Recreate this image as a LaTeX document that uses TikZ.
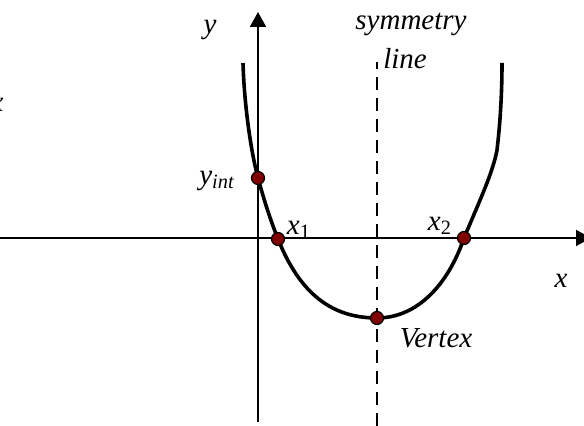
\documentclass[tikz,border=0pt]{standalone}
\usepackage{fontspec}
\setmainfont{Liberation Serif}
\usetikzlibrary{arrows.meta}
\definecolor{dotred}{RGB}{128,0,0}

\begin{document}
\begin{tikzpicture}[x=0.5pt, y=-0.5pt,
      axis/.style={line width=1pt, -{Triangle[length=7.5pt, width=8pt]}},
      curve/.style={line width=1.8pt},
      symline/.style={line width=1pt, dash pattern=on 6.5pt off 4pt},
      dot/.style={circle, draw=black, fill=dotred, line width=0.6pt,
                  inner sep=0pt, minimum size=6.5pt},
      lbl/.style={font=\fontsize{14.5}{16}\selectfont\itshape, inner sep=0pt}
    ]
    \useasboundingbox (0,0) rectangle (584,426);

    % axes and the symmetry line
    \coordinate (xl) at (0,238);
    \coordinate (xr) at (591,238);
    \coordinate (yb) at (258,422);
    \coordinate (yt) at (258,12);
    \coordinate (sb) at (377,426);
    \coordinate (st) at (377,62);
    \draw[axis] (xl) -- (xr);
    \draw[axis] (yb) -- (yt);
    \draw[symline] (sb) -- (st);

    % the parabola
    \coordinate (ltop) at (243,63);
    \coordinate (rtop) at (502,63);
    \coordinate (rmid) at (497,150);
    \coordinate (pyint) at (258,178);
    \coordinate (px1) at (278,239);
    \coordinate (px2) at (464,238);
    \coordinate (pvert) at (377,318);
    \draw[curve] (ltop) .. controls (244,100) and (250,148) .. (pyint)
      .. controls (264,200) and (270,219) .. (px1)
      .. controls (300,294) and (332,318) .. (pvert)
      .. controls (417,318) and (448,285) .. (px2)
      .. controls (480,200) and (493,172) .. (rmid)
      .. controls (500,125) and (502,95) .. (rtop);

    \node[dot] (yint) at (pyint) {};
    \node[dot] (x1) at (px1) {};
    \node[dot] (x2) at (px2) {};
    \node[dot] (vert) at (pvert) {};

    % labels
    \node[lbl] (ylab) at (210,30) {y};
    \node[lbl] (xlab) at (561,281) {x};
    \node[lbl] (xcut) at (-3,105) {x};
    \node[lbl] (sym) at (411,24) {symmetry};
    \node[lbl] (line) at (405,59) {line};
    \node[lbl] (yintlab) at (217,181) {y\textsubscript{int}};
    \node[lbl] (x1lab) at (299,230) {x\textsubscript{\textup{1}}};
    \node[lbl] (x2lab) at (440,226) {x\textsubscript{\textup{2}}};
    \node[lbl] (vlab) at (436,338) {Vertex};
\end{tikzpicture}
\end{document}
